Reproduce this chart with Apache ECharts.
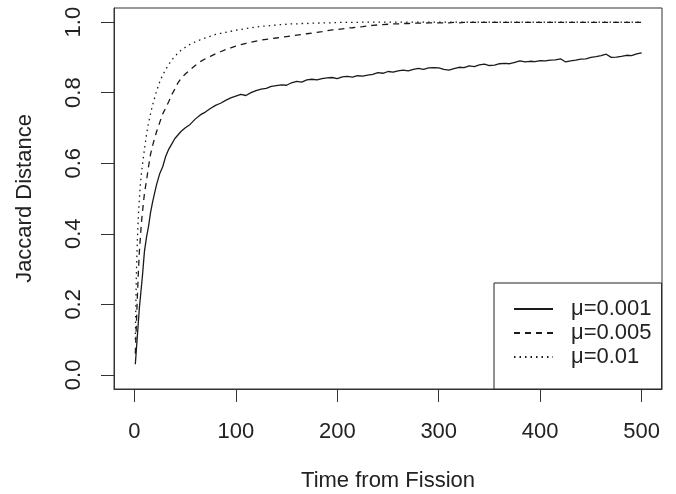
<!DOCTYPE html>
<html>
<head>
<meta charset="utf-8">
<script src="https://cdn.jsdelivr.net/npm/echarts@6/dist/echarts.min.js"></script>
<style>html,body{margin:0;padding:0;background:#fff}#c{width:676px;height:494px}</style>
</head>
<body>
<div id="c"></div>
<script>
var seriesNames = ['\u03bc=0.001', '\u03bc=0.005', '\u03bc=0.01'];
var xTicks = [0, 100, 200, 300, 400, 500];
var yTicks = [0, 0.2, 0.4, 0.6, 0.8, 1.0];

var time = [1,2,3,4,5,6,7,8,10,12,14,16,18,20,22,25,28,31,34,37,40,43,46,50,55,60,65,70,75,80,85,90,95,100,
  105,110,115,120,125,130,135,140,145,150,155,160,165,170,175,180,185,190,195,200,
  205,210,215,220,225,230,235,240,245,250,255,260,265,270,275,280,285,290,295,300,
  305,310,315,320,325,330,335,340,345,350,355,360,365,370,375,380,385,390,395,400,
  405,410,415,420,425,430,435,440,445,450,455,460,465,470,475,480,485,490,495,500];

var mu001 = [0.03,0.07,0.11,0.15,0.19,0.22,0.25,0.28,0.35,0.39,0.42,0.46,0.49,0.515,0.54,0.57,0.59,0.62,0.64,0.655,0.67,0.68,0.69,0.70,0.71,0.725,0.737,0.745,0.755,0.764,0.77,0.778,0.785,0.79,
  0.795,0.792,0.80,0.806,0.81,0.812,0.818,0.82,0.822,0.821,0.828,0.832,0.83,0.836,0.838,0.836,0.84,0.842,0.843,0.84,
  0.845,0.846,0.844,0.848,0.847,0.85,0.852,0.857,0.855,0.86,0.858,0.862,0.864,0.862,0.866,0.869,0.866,0.87,0.871,0.87,
  0.866,0.864,0.868,0.872,0.871,0.876,0.874,0.879,0.881,0.877,0.878,0.882,0.883,0.882,0.886,0.89,0.887,0.889,0.888,0.891,
  0.89,0.892,0.893,0.896,0.887,0.89,0.892,0.895,0.896,0.9,0.902,0.905,0.909,0.9,0.901,0.903,0.906,0.905,0.91,0.913];

var mu005 = [0.06,0.14,0.22,0.29,0.35,0.39,0.43,0.46,0.515,0.55,0.59,0.625,0.65,0.67,0.69,0.715,0.74,0.757,0.775,0.795,0.81,0.828,0.84,0.852,0.865,0.877,0.888,0.896,0.903,0.91,0.916,0.922,0.927,0.932,
  0.936,0.94,0.943,0.946,0.949,0.951,0.953,0.955,0.957,0.959,0.961,0.963,0.965,0.967,0.969,0.971,0.973,0.976,0.978,0.979,
  0.981,0.983,0.984,0.986,0.987,0.989,0.991,0.992,0.993,0.994,0.995,0.995,0.996,0.996,0.997,0.997,0.997,0.998,0.998,0.998,
  0.998,0.998,0.999,0.998,0.999,0.999,0.999,0.999,0.999,0.999,0.999,0.999,0.999,0.999,0.999,0.999,0.999,0.999,0.999,0.999,
  0.999,0.999,0.999,0.999,0.999,0.999,0.999,0.999,0.999,0.999,0.999,0.999,0.999,0.999,0.999,0.999,0.999,0.999,0.999,0.999];

var mu01 = [0.10,0.28,0.38,0.45,0.50,0.54,0.57,0.595,0.64,0.68,0.715,0.74,0.765,0.785,0.805,0.83,0.85,0.866,0.88,0.893,0.903,0.912,0.92,0.928,0.937,0.944,0.95,0.955,0.96,0.965,0.968,0.971,0.974,0.977,
  0.979,0.982,0.984,0.986,0.988,0.989,0.99,0.992,0.993,0.994,0.995,0.995,0.996,0.996,0.997,0.997,0.998,0.998,0.998,0.999,
  0.999,0.999,0.999,0.999,1,1,1,1,1,1,1,1,1,1,1,1,1,1,1,1,
  1,1,1,1,1,1,1,1,1,1,1,1,1,1,1,1,1,1,1,1,
  1,1,1,1,1,1,1,1,1,1,1,1,1,1,1,1,1,1,1,1];

function pairs(vals) {
  var out = [];
  for (var i = 0; i < time.length; i++) out.push([time[i], vals[i]]);
  return out;
}

var ink = '#222';
var font = 'Liberation Sans, Arial, Helvetica, sans-serif';
var chart = echarts.init(document.getElementById('c'), null, {renderer: 'canvas'});
chart.setOption({
  animation: false,
  backgroundColor: '#fff',
  textStyle: {fontFamily: font, color: ink},
  grid: {left: 114, right: 14, top: 8, bottom: 105, containLabel: false, outerBoundsMode: 'none',
    show: true, borderColor: '#333', borderWidth: 1, backgroundColor: 'transparent'},
  xAxis: {
    type: 'value', min: -20, max: 520,
    name: 'Time from Fission', nameLocation: 'middle', nameGap: 81, nameMoveOverlap: false,
    nameTextStyle: {fontSize: 22, color: ink, fontFamily: font},
    axisLine: {show: true, onZero: false, lineStyle: {color: '#333', width: 1}},
    axisTick: {show: true, inside: false, length: 13, customValues: xTicks, lineStyle: {color: '#333', width: 1}},
    axisLabel: {show: true, customValues: xTicks, fontSize: 22, color: ink, margin: 32, fontFamily: font},
    splitLine: {show: false}
  },
  yAxis: {
    type: 'value', min: -0.04, max: 1.04,
    name: 'Jaccard Distance', nameLocation: 'middle', nameGap: 78, nameRotate: 90, nameMoveOverlap: false,
    nameTextStyle: {fontSize: 22, color: ink, fontFamily: font},
    axisLine: {show: true, onZero: false, lineStyle: {color: '#333', width: 1}},
    axisTick: {show: true, inside: false, length: 13, customValues: yTicks, lineStyle: {color: '#333', width: 1}},
    axisLabel: {show: true, customValues: yTicks, rotate: 90, fontSize: 22, color: ink, margin: 29, fontFamily: font,
      formatter: function (v) { return v.toFixed(1); }},
    splitLine: {show: false}
  },
  legend: {
    show: true, orient: 'vertical', left: 494, top: 283,
    padding: [15, 10, 21, 19],
    borderColor: '#222', borderWidth: 1, backgroundColor: '#fff',
    itemWidth: 39, itemHeight: 14, itemGap: 2,
    itemStyle: {opacity: 0},
    textStyle: {fontSize: 22, color: ink, lineHeight: 22, fontFamily: font, padding: [0, 0, 0, 13]},
    data: seriesNames
  },
  series: [
    {name: seriesNames[0], type: 'line', data: pairs(mu001), symbol: 'none', showSymbol: false, z: 3,
      lineStyle: {color: '#1a1a1a', width: 1.3, type: 'solid'}, itemStyle: {color: '#1a1a1a'}},
    {name: seriesNames[1], type: 'line', data: pairs(mu005), symbol: 'none', showSymbol: false, z: 3,
      lineStyle: {color: '#1a1a1a', width: 1.3, type: [6, 5]}, itemStyle: {color: '#1a1a1a'}},
    {name: seriesNames[2], type: 'line', data: pairs(mu01), symbol: 'none', showSymbol: false, z: 3,
      lineStyle: {color: '#1a1a1a', width: 1.3, type: [1.5, 4]}, itemStyle: {color: '#1a1a1a'}}
  ]
});
</script>
</body>
</html>
